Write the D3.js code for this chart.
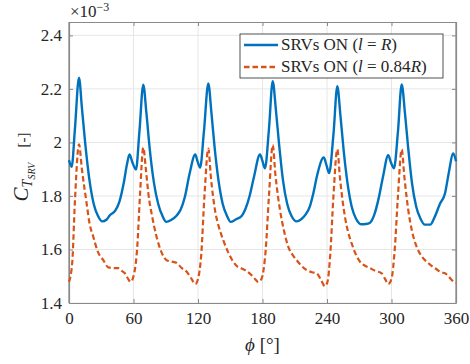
<!DOCTYPE html>
<html>
<head>
<meta charset="utf-8">
<script src="https://cdn.jsdelivr.net/npm/d3@7"></script>
<style>
  #fig text, #fig tspan { font-family: 'Liberation Serif', 'Times New Roman', Tinos !important; }
</style>
</head>
<body style="margin:0">
<svg id="fig" width="470" height="364" font-family="Liberation Serif"></svg>
<script>
// phi [deg] and C_T (x1e-3)
const phiBlue = [0,2.5,5.5,9.3,12,15,19,23,27,31,35,38,43,47,51,54,56.3,59,62.3,65.5,
  69.1,72,75,79,83,87,90.5,95,100,104,108,112,117.5,119.5,122,125.5,
  129.6,132.5,135.5,139,143,147,150.4,155,160.6,164,168,172,177.7,180,182.3,186,
  189.5,192.5,195.5,199,203,207,211.8,216,220,224,227.3,231,237,239.5,242,246,
  249.6,252.5,255.5,259,263,267,272.3,276,280,284,288,292,297,299.5,302.3,306,
  309.5,312.5,315.5,319,323,327,331,336,340,345,349.8,353,357.5,360];
const ctBlue = [1.934,1.909,2.05,2.242,2.13,2.0,1.86,1.77,1.725,1.705,1.712,1.728,1.745,1.78,1.85,1.92,1.955,1.925,1.899,2.04,
  2.216,2.11,1.98,1.85,1.77,1.725,1.703,1.71,1.726,1.75,1.80,1.88,1.955,1.93,1.906,2.04,
  2.220,2.11,1.98,1.86,1.77,1.725,1.703,1.712,1.725,1.75,1.80,1.87,1.955,1.93,1.903,2.05,
  2.229,2.12,1.99,1.86,1.77,1.725,1.705,1.713,1.73,1.76,1.81,1.88,1.944,1.915,1.886,2.03,
  2.210,2.10,1.97,1.85,1.76,1.715,1.694,1.695,1.70,1.73,1.79,1.87,1.952,1.925,1.903,2.04,
  2.217,2.11,1.98,1.85,1.76,1.715,1.693,1.693,1.72,1.77,1.81,1.88,1.959,1.93];

const phiOrange = [0,3,5.5,9.3,12,16.4,19,22.6,27,31.9,36.6,42,45.9,49,52,55,57.4,60,63.5,66,
  69.1,71.5,73.8,77.5,81.5,86,90.8,95,100,105,109.5,114,117.5,120,123,126,
  129.6,132,135.8,139,143.5,148,152.8,157,160.6,165,169.9,173,176,179,183,186,
  189.5,192,196.3,200,204,208,211.8,216,221.1,226,230.4,234,238,240.5,243,246,
  249.6,252,256.7,260,263,267,270.7,275,280,285,290.9,294,297,300,303,306,
  309.5,312,315.6,319,323.4,328,332.7,337,342,346,349.8,353,356,360];
const ctOrange = [1.479,1.55,1.78,1.993,1.90,1.772,1.70,1.647,1.59,1.560,1.533,1.530,1.530,1.52,1.511,1.49,1.479,1.50,1.61,1.80,
  1.981,1.90,1.81,1.72,1.647,1.59,1.560,1.555,1.55,1.53,1.517,1.49,1.471,1.49,1.58,1.80,
  1.977,1.87,1.747,1.69,1.635,1.59,1.554,1.535,1.529,1.52,1.504,1.49,1.479,1.49,1.60,1.80,
  1.990,1.88,1.747,1.67,1.61,1.58,1.560,1.54,1.523,1.515,1.511,1.49,1.463,1.48,1.58,1.80,
  1.974,1.87,1.722,1.66,1.622,1.58,1.554,1.54,1.530,1.52,1.511,1.49,1.471,1.49,1.60,1.80,
  1.974,1.87,1.747,1.67,1.61,1.575,1.554,1.54,1.526,1.515,1.511,1.50,1.486,1.476];

const xTicks = [0, 60, 120, 180, 240, 300, 360];
const yTicks = [1.4, 1.6, 1.8, 2, 2.2, 2.4];

const FONT = "'Liberation Serif'";
const svg = d3.select('#fig');
const mLeft = 69, mRight = 456, mTop = 22, mBottom = 303;

const x = d3.scaleLinear().domain([0, 360]).range([mLeft, mRight]);
const y = d3.scaleLinear().domain([1.4, 2.45]).range([mBottom, mTop]);

// grid
svg.append('g').selectAll('line').data(xTicks).join('line')
  .attr('x1', d => x(d)).attr('x2', d => x(d))
  .attr('y1', mTop).attr('y2', mBottom)
  .attr('stroke', '#e6e6e6').attr('stroke-width', 1);
svg.append('g').selectAll('line').data(yTicks).join('line')
  .attr('x1', mLeft).attr('x2', mRight)
  .attr('y1', d => y(d)).attr('y2', d => y(d))
  .attr('stroke', '#e6e6e6').attr('stroke-width', 1);

// axes (ticks inward)
const axColor = '#8a8a8a';
const xAxis = svg.append('g').attr('transform', `translate(0,${mBottom})`)
  .call(d3.axisBottom(x).tickValues(xTicks).tickSizeInner(-4).tickSizeOuter(0).tickPadding(9));
const xTop = svg.append('g').attr('transform', `translate(0,${mTop})`)
  .call(d3.axisTop(x).tickValues(xTicks).tickSizeInner(-4).tickSizeOuter(0).tickFormat(''));
const yAxis = svg.append('g').attr('transform', `translate(${mLeft},0)`)
  .call(d3.axisLeft(y).tickValues(yTicks).tickSizeInner(-4).tickSizeOuter(0).tickPadding(7).tickFormat(d3.format('')));
const yRight = svg.append('g').attr('transform', `translate(${mRight},0)`)
  .call(d3.axisRight(y).tickValues(yTicks).tickSizeInner(-4).tickSizeOuter(0).tickFormat(''));

[xAxis, xTop, yAxis, yRight].forEach(g => {
  g.attr('font-family', 'Liberation Serif');
  g.select('.domain').attr('stroke', axColor).attr('stroke-width', 1.2);
  g.selectAll('.tick line').attr('stroke', axColor);
  g.selectAll('.tick text').style('font-family', FONT)
    .attr('font-size', 17).attr('fill', '#262626');
});
// the y domain extends above 2.4, so draw the full left/right edges
svg.append('line').attr('x1', mLeft).attr('x2', mLeft).attr('y1', mTop).attr('y2', mBottom)
  .attr('stroke', axColor).attr('stroke-width', 1.2);
svg.append('line').attr('x1', mRight).attr('x2', mRight).attr('y1', mTop).attr('y2', mBottom)
  .attr('stroke', axColor).attr('stroke-width', 1.2);

// lines
const orangeDash = '5.5,3';
const line = d3.line().curve(d3.curveMonotoneX);
svg.append('path')
  .attr('d', line(phiOrange.map((p, i) => [x(p), y(ctOrange[i])])))
  .attr('fill', 'none').attr('stroke', '#D95319').attr('stroke-width', 2.2)
  .attr('stroke-dasharray', orangeDash);
svg.append('path')
  .attr('d', line(phiBlue.map((p, i) => [x(p), y(ctBlue[i])])))
  .attr('fill', 'none').attr('stroke', '#0072BD').attr('stroke-width', 2.4);

// exponent
const ex = svg.append('text').attr('x', 70).attr('y', 17).attr('font-size', 17)
  .style('font-family', FONT).attr('fill', '#262626');
ex.append('tspan').text('×10');
ex.append('tspan').attr('font-size', 12).attr('dy', -6).text('−3');

// x label
const xl = svg.append('text').attr('x', (mLeft + mRight) / 2).attr('y', 351)
  .attr('text-anchor', 'middle').attr('font-size', 19)
  .style('font-family', FONT).attr('fill', '#262626');
xl.append('tspan').attr('font-style', 'italic').text('ϕ');
xl.append('tspan').text(' [°]');

// y label
const yl = svg.append('text').attr('transform', 'translate(28,167) rotate(-90)')
  .attr('text-anchor', 'middle').attr('font-size', 21)
  .style('font-family', FONT).attr('fill', '#262626');
yl.append('tspan').attr('font-style', 'italic').text('C');
yl.append('tspan').attr('font-style', 'italic').attr('font-size', 14).attr('dy', 4).text('T');
yl.append('tspan').attr('font-style', 'italic').attr('font-size', 10).attr('dy', 3).text('SRV');
yl.append('tspan').attr('font-size', 15).attr('dy', -7).text('\u2003[-]');

// legend
const lg = svg.append('g');
lg.append('rect').attr('x', 240).attr('y', 34).attr('width', 203).attr('height', 44)
  .attr('fill', '#fff').attr('stroke', '#262626').attr('stroke-width', 0.8);
const entries = [
  { color: '#0072BD', dash: null, num: '' },
  { color: '#D95319', dash: orangeDash, num: '0.84' }
];
entries.forEach((e, i) => {
  const yy = 45 + i * 22;
  lg.append('line').attr('x1', 244).attr('x2', 278).attr('y1', yy).attr('y2', yy)
    .attr('stroke', e.color).attr('stroke-width', 2.4)
    .attr('stroke-dasharray', e.dash);
  const t = lg.append('text').attr('x', 281).attr('y', yy + 5).attr('font-size', 17)
    .style('font-family', FONT).attr('fill', '#262626');
  t.append('tspan').text('SRVs ON (');
  t.append('tspan').attr('font-style', 'italic').text('l');
  t.append('tspan').text(' = ' + e.num);
  t.append('tspan').attr('font-style', 'italic').text('R');
  t.append('tspan').text(')');
});
</script>
</body>
</html>
